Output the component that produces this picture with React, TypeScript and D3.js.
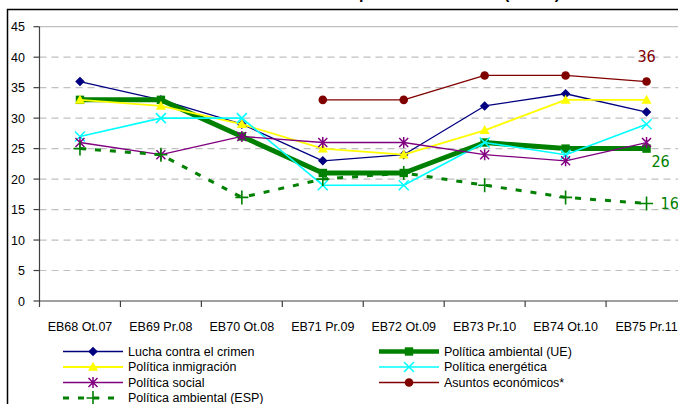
import React from "react";
import * as d3 from "d3";

const categories = [
  "EB68 Ot.07",
  "EB69 Pr.08",
  "EB70 Ot.08",
  "EB71 Pr.09",
  "EB72 Ot.09",
  "EB73 Pr.10",
  "EB74 Ot.10",
  "EB75 Pr.11",
];
const lucha = [36, 33, 29, 23, 24, 32, 34, 31];
const ambientalUE = [33, 33, 27, 21, 21, 26, 25, 25];
const inmigracion = [33, 32, 29, 25, 24, 28, 33, 33];
const energetica = [27, 30, 30, 19, 19, 26, 24, 29];
const social = [26, 24, 27, 26, 26, 24, 23, 26];
const economicos: (number | null)[] = [null, null, null, 33, 33, 37, 37, 36];
const ambientalESP = [25, 24, 17, 20, 21, 19, 17, 16];
const yTicks = [0, 5, 10, 15, 20, 25, 30, 35, 40, 45];
const titleText = "Evolución de la opinión sobre la UE (UE-27)";

type Marker = "diamond" | "square" | "triangle" | "x" | "asterisk" | "circle" | "plus";
interface Series {
  name: string;
  values: (number | null)[];
  color: string;
  width: number;
  dash?: string;
  marker: Marker;
}

const series: Series[] = [
  { name: "Lucha contra el crimen", values: lucha, color: "#000080", width: 1.3, marker: "diamond" },
  { name: "Política ambiental (UE)", values: ambientalUE, color: "#008000", width: 5, marker: "square" },
  { name: "Política inmigración", values: inmigracion, color: "#FFFF00", width: 1.8, marker: "triangle" },
  { name: "Política energética", values: energetica, color: "#00FFFF", width: 1.6, marker: "x" },
  { name: "Política social", values: social, color: "#800080", width: 1.3, marker: "asterisk" },
  { name: "Asuntos económicos*", values: economicos, color: "#800000", width: 1.3, marker: "circle" },
  { name: "Política ambiental (ESP)", values: ambientalESP, color: "#008000", width: 3, dash: "6,9", marker: "plus" },
];

const legendLeft = ["Lucha contra el crimen", "Política inmigración", "Política social", "Política ambiental (ESP)"];
const legendRight = ["Política ambiental (UE)", "Política energética", "Asuntos económicos*"];

const W = 678;
const H = 404;
const plotLeft = 39.5;
const plotRight = 687;
const plotTop = 26.7;
const plotBottom = 301;

function MarkerShape({ type, x, y, color }: { type: Marker; x: number; y: number; color: string }) {
  switch (type) {
    case "diamond":
      return <path d={`M${x},${y - 4.8}L${x + 4.8},${y}L${x},${y + 4.8}L${x - 4.8},${y}Z`} fill={color} />;
    case "square":
      return <rect x={x - 4.2} y={y - 4.2} width={8.4} height={8.4} fill={color} />;
    case "triangle":
      return <path d={`M${x},${y - 5.2}L${x + 5},${y + 3.8}L${x - 5},${y + 3.8}Z`} fill={color} />;
    case "x":
      return (
        <path
          d={`M${x - 5},${y - 5}L${x + 5},${y + 5}M${x - 5},${y + 5}L${x + 5},${y - 5}`}
          stroke={color}
          strokeWidth={1.5}
          fill="none"
        />
      );
    case "asterisk":
      return (
        <path
          d={`M${x - 4.5},${y - 4.5}L${x + 4.5},${y + 4.5}M${x - 4.5},${y + 4.5}L${x + 4.5},${y - 4.5}M${x},${y - 5.5}L${x},${y + 5.5}`}
          stroke={color}
          strokeWidth={1.5}
          fill="none"
        />
      );
    case "circle":
      return <circle cx={x} cy={y} r={4.3} fill={color} />;
    case "plus":
      return (
        <path
          d={`M${x - 6.5},${y}L${x + 6.5},${y}M${x},${y - 7}L${x},${y + 7}`}
          stroke={color}
          strokeWidth={1.6}
          fill="none"
        />
      );
  }
  return null;
}

export default function App() {
  const x = d3.scaleBand<string>().domain(categories).range([plotLeft, plotRight]).padding(0);
  const cx = (c: string) => (x(c) as number) + x.bandwidth() / 2;
  const y = d3.scaleLinear().domain([0, 45]).range([plotBottom, plotTop]);

  const tickBounds = categories.map((c) => x(c) as number);

  const font = "'Liberation Sans', Arial, sans-serif";
  const narrow = "'Liberation Sans Narrow', 'DejaVu Sans Condensed', Arial, sans-serif";

  const byName = (n: string) => series.find((s) => s.name === n)!;

  const legendRow = [351.5, 367, 382.5, 398];

  const renderLegend = (names: string[], x0: number) =>
    names.map((n, i) => {
      const s = byName(n);
      const ly = legendRow[i];
      return (
        <g key={n}>
          <line
            x1={x0}
            x2={x0 + 60}
            y1={ly}
            y2={ly}
            stroke={s.color}
            strokeWidth={s.width === 5 ? 4.5 : s.width}
            strokeDasharray={s.dash}
          />
          <MarkerShape type={s.marker} x={x0 + 30} y={ly} color={s.color} />
          <text x={x0 + 65} y={ly} dy="0.35em" fontFamily={font} fontSize={12.5} fill="#000">
            {n}
          </text>
        </g>
      );
    });

  const lastIdx = categories.length - 1;
  const lastX = cx(categories[lastIdx]);

  return (
    <svg
      width={W}
      height={H}
      style={{ position: "absolute", left: 0, top: 0, background: "#fff" }}
    >
      <rect x={0} y={0} width={W} height={H} fill="#fff" />
      {/* title, mostly cut off above the frame */}
      <text x={560} y={-1} textAnchor="end" fontFamily={font} fontSize={16} fontWeight="bold" fill="#000">
        {titleText}
      </text>
      {/* chart frame */}
      <rect x={7.5} y={9.5} width={720} height={500} fill="none" stroke="#000" strokeWidth={1.5} />

      {/* gridlines */}
      {yTicks.map((t) =>
        t === 0 ? null : (
          <line
            key={t}
            x1={plotLeft}
            x2={plotRight}
            y1={y(t)}
            y2={y(t)}
            stroke="#c0c0c0"
            strokeWidth={1.2}
            strokeDasharray={t === 45 ? undefined : "7,5"}
          />
        )
      )}

      {/* y axis */}
      <line x1={plotLeft} x2={plotLeft} y1={plotTop} y2={plotBottom} stroke="#404040" strokeWidth={1.2} />
      {yTicks.map((t) => (
        <g key={t}>
          <line x1={plotLeft - 6} x2={plotLeft} y1={y(t)} y2={y(t)} stroke="#404040" strokeWidth={1.2} />
          <text x={25} y={y(t)} dy="0.36em" textAnchor="end" fontFamily={font} fontSize={12.5} fill="#000">
            {t}
          </text>
        </g>
      ))}

      {/* x axis */}
      <line x1={plotLeft} x2={plotRight} y1={plotBottom} y2={plotBottom} stroke="#404040" strokeWidth={1.2} />
      {tickBounds.map((b, i) => (
        <line key={i} x1={b} x2={b} y1={plotBottom} y2={plotBottom + 6} stroke="#404040" strokeWidth={1.2} />
      ))}
      {categories.map((c) => (
        <text key={c} x={cx(c)} y={327} dy="0.35em" textAnchor="middle" fontFamily={font} fontSize={12.5} fill="#000">
          {c}
        </text>
      ))}

      {/* series */}
      {series.map((s) => {
        const pts = categories.map((c, i) => ({ c, v: s.values[i] }));
        const line = d3
          .line<{ c: string; v: number | null }>()
          .defined((d) => d.v !== null)
          .x((d) => cx(d.c))
          .y((d) => y(d.v as number));
        return (
          <g key={s.name}>
            <path
              d={line(pts) || ""}
              fill="none"
              stroke={s.color}
              strokeWidth={s.width}
              strokeDasharray={s.dash}
              strokeLinejoin="round"
            />
            {pts.map((p) =>
              p.v === null ? null : (
                <MarkerShape key={p.c} type={s.marker} x={cx(p.c)} y={y(p.v)} color={s.color} />
              )
            )}
          </g>
        );
      })}

      {/* data labels */}
      <text x={lastX} y={y(economicos[lastIdx] as number) - 25} dy="0.35em" textAnchor="middle" fontFamily={narrow} fontSize={16} fill="#800000">
        36
      </text>
      <text x={lastX + 14} y={y(ambientalUE[lastIdx]) + 13} dy="0.35em" textAnchor="middle" fontFamily={narrow} fontSize={16} fill="#008000">
        26
      </text>
      <text x={lastX + 14} y={y(ambientalESP[lastIdx])} dy="0.35em" textAnchor="start" fontFamily={narrow} fontSize={16} fill="#008000">
        16
      </text>

      {/* legend */}
      {renderLegend(legendLeft, 63)}
      {renderLegend(legendRight, 379)}
    </svg>
  );
}
